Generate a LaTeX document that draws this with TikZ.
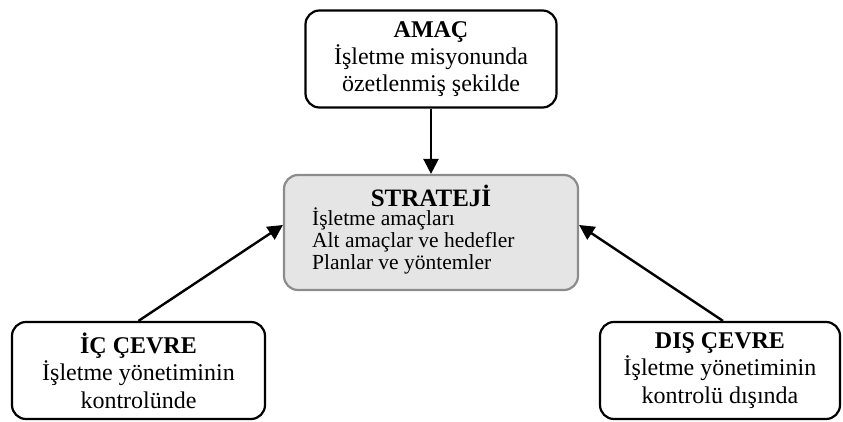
\documentclass[tikz,border=0pt]{standalone}
\usepackage{fontspec}
\setmainfont{Liberation Serif}
\usetikzlibrary{arrows.meta}
\begin{document}
\begin{tikzpicture}[x=1pt,y=-1pt,
  box/.style={draw=black, line width=2.2pt, rounded corners=14pt, inner sep=0pt, align=center},
  core/.style={draw=black!45, fill=black!10, line width=2.2pt, rounded corners=14pt, inner sep=0pt},
  link/.style={line width=2.4pt, -{Triangle[length=15pt,width=15pt]}}]
\useasboundingbox (0,0) rectangle (843,422);

% goal box at the top
\node[box, minimum width=251pt, minimum height=97pt, font=\fontsize{24}{27}\selectfont]
  (amac) at (431,59) {\textbf{AMAÇ}\\İşletme misyonunda\\özetlenmiş şekilde};

% strategy box in the middle
\node[core, minimum width=294pt, minimum height=115pt] (strateji) at (431,232.5) {};
\node[font=\fontsize{25}{26}\bfseries\selectfont, inner sep=0pt] (stitle) at (431,196) {STRATEJİ};
\node[anchor=west, align=left, inner sep=0pt, font=\fontsize{21.5}{22}\selectfont]
  (slist) at (312,241) {İşletme amaçları\\Alt amaçlar ve hedefler\\Planlar ve yöntemler};

% internal and external environment boxes
\node[box, minimum width=253pt, minimum height=97pt, font=\fontsize{24}{27.5}\selectfont]
  (ic) at (138.5,370.5) {\textbf{İÇ ÇEVRE}\\İşletme yönetiminin\\kontrolünde};
\node[box, minimum width=240pt, minimum height=97pt, font=\fontsize{24}{27.5}\selectfont]
  (dis) at (720,370.5) {\textbf{DIŞ ÇEVRE}\\İşletme yönetiminin\\kontrolü dışında};

% connectors
\draw[link] (amac.south) -- (strateji.north);
\draw[link] (ic.north) -- ([yshift=7.5pt]strateji.west);
\draw[link] ([xshift=3pt]dis.north) -- ([yshift=7.5pt]strateji.east);
\end{tikzpicture}
\end{document}
